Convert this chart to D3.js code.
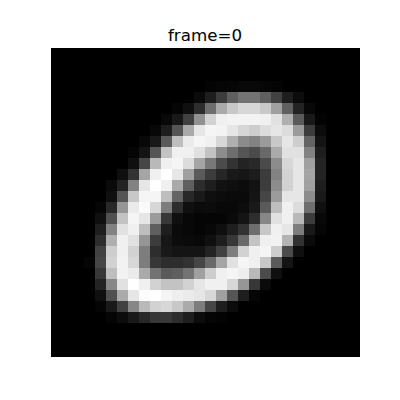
<!DOCTYPE html>
<html>
<head>
<meta charset="utf-8">
<script src="https://d3js.org/d3.v7.min.js"></script>
<style>
  html, body { margin: 0; padding: 0; background: #fff; }
  svg { display: block; }
</style>
</head>
<body>
<svg id="chart" width="400" height="400"></svg>
<script>
/*** DATA ***/

let title = "frame=0";

// 28x28 grey levels (0-255)
let pixels = [
  [0,0,0,0,0,0,0,0,0,0,0,0,0,0, 0,0,0,0,0,0,0,0,0,0,0,0,0,0],
  [0,0,0,0,0,0,0,0,0,0,0,0,0,0, 0,0,0,0,0,0,0,0,0,0,0,0,0,0],
  [0,0,0,0,0,0,0,0,0,0,0,0,0,0, 0,0,0,0,0,0,0,0,0,0,0,0,0,0],
  [0,0,0,0,0,0,0,0,0,0,0,0,0,0, 3,5,6,8,8,6,4,0,0,0,0,0,0,0],
  [0,0,0,0,0,0,0,0,0,0,0,0,0,10, 30,60,95,115,115,95,65,30,12,0,0,0,0,0],
  [0,0,0,0,0,0,0,0,0,0,0,5,15,45, 110,170,200,215,215,200,160,95,35,8,0,0,0,0],
  [0,0,0,0,0,0,0,0,0,0,8,25,65,145, 210,240,243,243,243,240,225,175,90,25,3,0,0,0],
  [0,0,0,0,0,0,0,0,0,8,30,85,170,230, 245,243,230,215,205,220,230,220,155,60,12,0,0,0],
  [0,0,0,0,0,0,0,0,8,25,90,190,235,245, 240,215,175,140,130,155,200,230,205,100,20,0,0,0],
  [0,0,0,0,0,0,0,5,20,85,195,240,240,225, 195,140,110,85,75,105,170,225,225,130,30,0,0,0],
  [0,0,0,0,0,0,0,15,70,185,240,245,220,165, 120,75,50,35,40,75,140,215,230,160,35,0,0,0],
  [0,0,0,0,0,0,15,50,165,240,255,230,160,90, 60,38,25,22,28,60,130,210,230,165,35,0,0,0],
  [0,0,0,0,0,10,35,130,230,255,240,170,95,45, 30,18,15,12,18,60,140,210,230,160,30,0,0,0],
  [0,0,0,0,0,15,85,200,245,245,190,100,40,25, 15,12,10,10,20,70,155,230,230,140,25,0,0,0],
  [0,0,0,0,5,40,150,235,250,215,125,45,15,10, 12,8,8,12,25,90,190,240,220,110,15,0,0,0],
  [0,0,0,0,15,80,195,245,230,155,55,15,8,5, 5,5,10,20,45,135,225,240,185,60,8,0,0,0],
  [0,0,0,0,30,130,225,240,190,95,30,10,8,5, 8,15,30,50,110,200,240,230,125,25,5,0,0,0],
  [0,0,0,0,45,175,240,225,150,60,22,12,10,8, 15,30,55,105,195,240,242,180,50,10,0,0,0,0],
  [0,0,0,0,65,205,240,210,125,45,25,20,20,20, 35,65,125,210,240,245,205,75,15,0,0,0,0,0],
  [0,0,0,5,70,210,242,215,125,55,45,45,50,70, 105,165,225,245,240,200,90,20,0,0,0,0,0,0],
  [0,0,0,0,55,190,242,235,170,115,90,95,115,160, 205,240,245,238,185,75,15,0,0,0,0,0,0,0],
  [0,0,0,0,35,135,225,255,240,210,195,195,210,230, 240,240,215,150,55,10,0,0,0,0,0,0,0,0],
  [0,0,0,0,15,80,170,230,252,255,245,238,235,230, 215,160,85,30,5,0,0,0,0,0,0,0,0,0],
  [0,0,0,0,5,25,65,135,185,210,215,200,170,125, 70,30,12,0,0,0,0,0,0,0,0,0,0,0],
  [0,0,0,0,0,5,12,25,40,55,55,45,30,12, 5,3,0,0,0,0,0,0,0,0,0,0,0,0],
  [0,0,0,0,0,0,0,0,0,0,0,0,0,0, 0,0,0,0,0,0,0,0,0,0,0,0,0,0],
  [0,0,0,0,0,0,0,0,0,0,0,0,0,0, 0,0,0,0,0,0,0,0,0,0,0,0,0,0],
  [0,0,0,0,0,0,0,0,0,0,0,0,0,0, 0,0,0,0,0,0,0,0,0,0,0,0,0,0]
];

/*** LAYOUT ***/

let margin = {top: 48, left: 51},
    size   = 308;

let svg = d3.select("#chart");

let n = pixels.length;
let x = d3.scaleBand().domain(d3.range(n)).range([margin.left, margin.left + size]),
    y = d3.scaleBand().domain(d3.range(n)).range([margin.top, margin.top + size]);

let grey = d3.scaleLinear().domain([0, 255]).range(["#000000", "#ffffff"]);

// flatten into cells
let cells = [];
pixels.forEach(function(row, r) {
    row.forEach(function(v, c) { cells.push({r: r, c: c, v: v}); });
});

/*** DRAW ***/

svg.append("g")
    .attr("shape-rendering", "crispEdges")
    .selectAll("rect")
    .data(cells)
    .enter().append("rect")
    .attr("x", d => x(d.c))
    .attr("y", d => y(d.r))
    .attr("width", x.bandwidth() + 0.5)
    .attr("height", y.bandwidth() + 0.5)
    .attr("fill", d => grey(d.v));

svg.append("text")
    .attr("x", margin.left + size / 2)
    .attr("y", 40.5)
    .attr("text-anchor", "middle")
    .attr("font-family", "DejaVu Sans")
    .attr("font-size", "16.7px")
    .attr("fill", "#000")
    .text(title);
</script>
</body>
</html>
